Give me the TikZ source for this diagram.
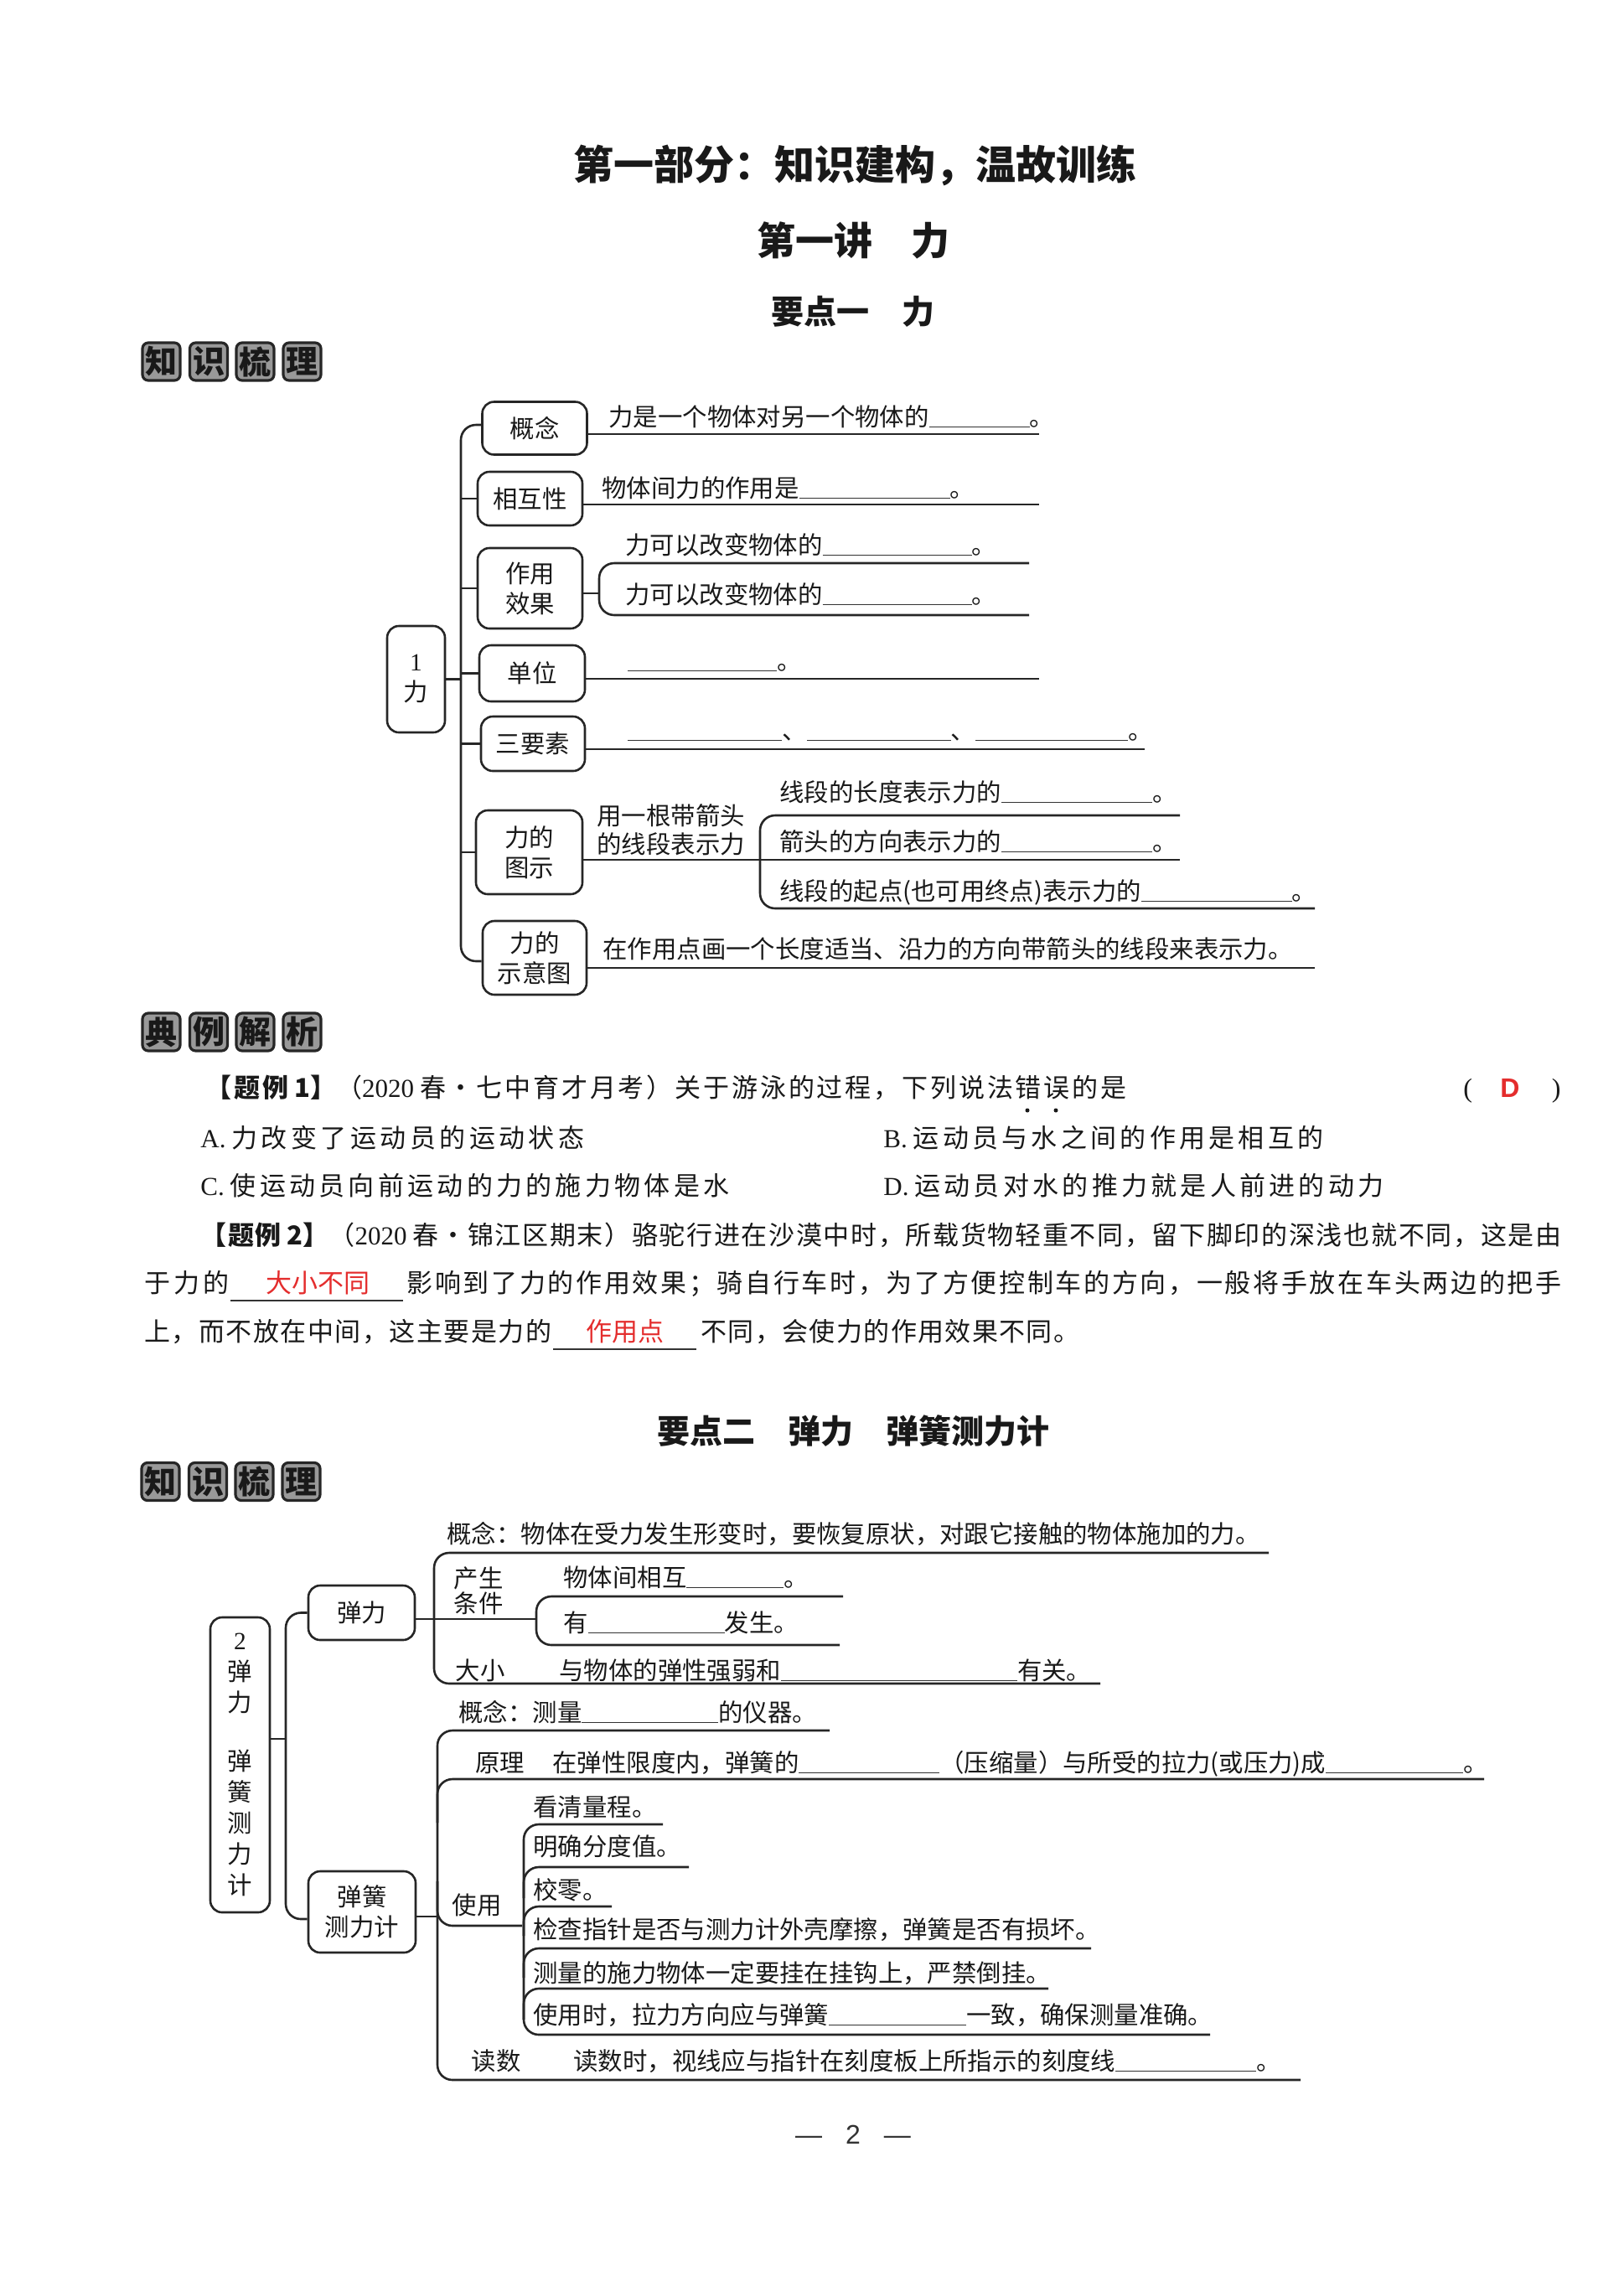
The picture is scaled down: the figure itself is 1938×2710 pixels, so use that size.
\documentclass[tikz,border=0pt]{standalone}
\usepackage{fontspec}
\setmainfont{Liberation Serif}
\newfontfamily\cjk{Noto Sans CJK SC}
\newfontfamily\latsans{Liberation Sans}
\usetikzlibrary{calc}
\newXeTeXintercharclass\mycjkclass
\newcount\mycc
\mycc="4E00 \loop \XeTeXcharclass\mycc=\mycjkclass \advance\mycc 1 \ifnum\mycc<"A000 \repeat
\mycc="3000 \loop \XeTeXcharclass\mycc=\mycjkclass \advance\mycc 1 \ifnum\mycc<"3100 \repeat
\mycc="FF00 \loop \XeTeXcharclass\mycc=\mycjkclass \advance\mycc 1 \ifnum\mycc<"FF70 \repeat
\XeTeXinterchartoks\mycjkclass\mycjkclass={\hskip0pt plus 1fil\relax}
\XeTeXinterchartokenstate=1
\definecolor{ansred}{RGB}{228,45,45}
\newcommand\ffs[1]{\fontsize{#1}{#1}\selectfont}
\newcommand\bl[1]{\textcolor{black!80}{\rule[-0.08em]{#1pt}{0.9pt}}}
\newcommand\lat[1]{{\rmfamily #1}}
\newcommand\jb[2]{\makebox[#1pt][s]{#2}}
\tikzset{
 every node/.style={inner sep=0pt, text=black!90},
 tx/.style={anchor=base west, font=\cjk\ffs{14.7}},
 txc/.style={anchor=base, font=\cjk\ffs{14.7}},
 qx/.style={anchor=base west, font=\cjk\ffs{15.5}},
 mbox/.style={draw=black!85, line width=1.3pt, rounded corners=7pt, align=center, font=\cjk\fontsize{14.7}{18}\selectfont},
 ln/.style={draw=black!85, line width=1.3pt, rounded corners=9pt},
 ul/.style={draw=black!80, line width=0.9pt},
 badge/.style={draw=black!85, fill=black!40, line width=1.6pt, rounded corners=3.5pt, minimum size=22.5pt, font=\cjk\bfseries\ffs{19}},
 hd/.style={anchor=base, font=\cjk\bfseries\ffs{19.5}},
}
\begin{document}
\begin{tikzpicture}[x=0.5pt,y=-0.5pt]
\fill[white] (0,0) rectangle (1938,2710);
\useasboundingbox (0,0) rectangle (1938,2710);

% ---------- headings ----------
\node[anchor=base, font=\cjk\bfseries\ffs{24}] (h1) at (1020,214) {第一部分：知识建构，温故训练};
\node[anchor=base, font=\cjk\bfseries\ffs{23}] (h2) at (1018,304) {第一讲　力};
\node[hd] (h3) at (1018,386.5) {要点一　力};
\node[hd] (h4) at (1018,1722.5) {要点二　弹力　弹簧测力计};

% ---------- badges ----------
\foreach \x/\c [count=\i] in {192.5/知,249/识,304.5/梳,360.5/理} \node[badge] (ka\i) at (\x,431.5) {\c};
\foreach \x/\c [count=\i] in {192.5/典,249/例,304.5/解,360.5/析} \node[badge] (kb\i) at (\x,1231.5) {\c};
\foreach \x/\c [count=\i] in {191.5/知,248/识,303.5/梳,359.5/理} \node[badge] (kc\i) at (\x,1768) {\c};

% ---------- mind map 1 ----------
\node[mbox, minimum width=34.5pt, minimum height=63.5pt] (L1) at (496.5,810.5) {\lat{1}\\力};
\node[mbox, minimum width=62.5pt, minimum height=31.5pt] (gn) at (638,511) {概念};
\node[mbox, minimum width=62.5pt, minimum height=32pt] (hx) at (632.5,595) {相互性};
\node[mbox, minimum width=62.5pt, minimum height=48pt] (zy) at (632.5,702) {作用\\效果};
\node[mbox, minimum width=63pt, minimum height=33.5pt] (dw) at (635,803.5) {单位};
\node[mbox, minimum width=62pt, minimum height=32.5pt] (sy) at (636,887.5) {三要素};
\node[mbox, minimum width=63.5pt, minimum height=50pt] (ts) at (631.5,1017) {力的\\图示};
\node[mbox, minimum width=62pt, minimum height=44pt] (sx) at (638,1143) {力的\\示意图};

\coordinate (T1) at (550,0);
\draw[ln] ($(gn.west)+(0,-4)$) -- ($(gn.west -| T1)+(0,-4)$) -- ($(sx.west -| T1)+(0,4)$) -- ($(sx.west)+(0,4)$);
\draw[ln] (hx.west) -- (hx.west -| T1);
\draw[ln] (zy.west) -- (zy.west -| T1);
\draw[ln] (dw.west) -- (dw.west -| T1);
\draw[ln] (sy.west) -- (sy.west -| T1);
\draw[ln] (ts.west) -- (ts.west -| T1);
\draw[ln] (L1.east) -- (L1.east -| T1);

\draw[ln] ($(gn.east)+(0,7)$) -- (1240,518);
\draw[ln] ($(hx.east)+(0,7)$) -- (1240,602);
\draw[ln] ($(zy.east)+(0,6)$) -- (715,708);
\draw[ln] (1228,672) -- (715,672) -- (715,734) -- (1228,734);
\draw[ln] ($(dw.east)+(0,6.5)$) -- (1240,810);
\draw[ln] ($(sy.east)+(0,6.5)$) -- (1366,894);
\draw[ln] ($(ts.east)+(0,9)$) -- (1408,1026);
\draw[ln] (1408,973) -- (907,973) -- (907,1084) -- (1569,1084);
\draw[ln] ($(sx.east)+(0,12)$) -- (1569,1155);

\node[tx] (a1) at (726,508) {力是一个物体对另一个物体的\bl{60}。};
\node[tx] (a2) at (718,593) {物体间力的作用是\bl{90}。};
\node[tx] (a3) at (746,661) {力可以改变物体的\bl{89}。};
\node[tx] (a4) at (746,720) {力可以改变物体的\bl{89}。};
\node[tx] (a5) at (749,799) {\bl{89}。};
\node[tx] (a6) at (749,882) {\bl{92}、\bl{86}、\bl{91}。};
\node[tx] (a7) at (712,984) {用一根带箭头};
\node[tx] (a8) at (712,1018) {的线段表示力};
\node[tx] (a9) at (930,956) {线段的长度表示力的\bl{90}。};
\node[tx] (a10) at (930,1015) {箭头的方向表示力的\bl{90}。};
\node[tx] (a11) at (930,1074) {线段的起点(也可用终点)表示力的\bl{90}。};
\node[tx] (a12) at (719,1143) {在作用点画一个长度适当、沿力的方向带箭头的线段来表示力。};

% ---------- examples ----------
\node[qx] (q1) at (245,1309) {\jb{549.5}{{\bfseries【题例 1】}（\lat{2020} 春・七中育才月考）关于游泳的过程，下列说法错误的是}};
\fill[black!90] (1226,1325) circle (2.5);
\fill[black!90] (1260,1325) circle (2.5);
\node[anchor=base west, font=\rmfamily\ffs{16}] (p1) at (1746,1309) {(};
\node[anchor=base, font=\latsans\bfseries\ffs{16}, text=ansred] (ans) at (1802,1309) {D};
\node[anchor=base east, font=\rmfamily\ffs{16}] (p2) at (1863,1309) {)};

\node[qx] (oa) at (239,1369) {\jb{229}{\lat{A.} 力改变了运动员的运动状态}};
\node[qx] (ob) at (1054,1369) {\jb{262.5}{\lat{B.} 运动员与水之间的作用是相互的}};
\node[qx] (oc) at (239,1426) {\jb{315.5}{\lat{C.} 使运动员向前运动的力的施力物体是水}};
\node[qx] (od) at (1054,1426) {\jb{298.5}{\lat{D.} 运动员对水的推力就是人前进的动力}};

\node[qx] (r1) at (239,1485) {\jb{812}{{\bfseries【题例 2】}（\lat{2020} 春・锦江区期末）骆驼行进在沙漠中时，所载货物轻重不同，留下脚印的深浅也就不同，这是由}};
\node[qx] (r2a) at (172,1542) {\jb{50.5}{于力的}};
\draw[ul] (275,1552) -- (481,1552);
\node[qx, anchor=base, text=ansred] (r2b) at (379,1542) {大小不同};
\node[qx] (r2c) at (485,1542) {\jb{689}{影响到了力的作用效果；骑自行车时，为了方便控制车的方向，一般将手放在车头两边的把手}};
\node[qx] (r3a) at (172,1600) {\jb{243}{上，而不放在中间，这主要是力的}};
\draw[ul] (660,1610) -- (831,1610);
\node[qx, anchor=base, text=ansred] (r3b) at (746,1600) {作用点};
\node[qx] (r3c) at (836,1600) {\jb{226}{不同，会使力的作用效果不同。}};

% ---------- mind map 2 ----------
\node[mbox, minimum width=35.5pt, minimum height=176pt, font=\cjk\fontsize{14.7}{18.5}\selectfont] (b2) at (286.5,2106) {\lat{2}\\弹\\力\\[16.5pt]弹\\簧\\测\\力\\计};
\node[mbox, minimum width=63.5pt, minimum height=32.5pt] (b2a) at (431.5,1924.5) {弹力};
\node[mbox, minimum width=64pt, minimum height=48.5pt] (b2c) at (432,2281.5) {弹簧\\测力计};

\coordinate (T2) at (341,0);
\draw[ln] (b2a.west) -- (b2a.west -| T2) -- ($(b2c.west -| T2)+(0,8.5)$) -- ($(b2c.west)+(0,8.5)$);
\draw[ln] ($(b2.east)+(0,-31)$) -- ($(b2.east -| T2)+(0,-31)$);
\draw[ln] ($(b2a.east)+(0,7.5)$) -- (640,1932);
\draw[ln] (1514,1853) -- (518,1853) -- (518,2009) -- (1313,2009);
\draw[ln] (1006,1905) -- (640,1905) -- (640,1963) -- (1002,1963);
\draw[ln] ($(b2c.east)+(0,5.5)$) -- (522,2287);
\draw[ln] (990,2065) -- (522,2065) -- (522,2482) -- (1552,2482);
\draw[ln] (1771,2123) -- (522,2123) -- (522,2175);
\draw[ln] (623,2298) -- (522,2298) -- (522,2245);
\draw[ln] (791,2177) -- (625,2177) -- (625,2428) -- (1444,2428);
\draw[ln] (822,2228) -- (625,2228) -- (625,2265);
\draw[ln] (730,2275) -- (625,2275) -- (625,2310);
\draw[ln] (1302,2325) -- (625,2325) -- (625,2360);
\draw[ln] (1251,2373) -- (625,2373) -- (625,2410);

\node[tx] (c1) at (533,1841) {概念：物体在受力发生形变时，要恢复原状，对跟它接触的物体施加的力。};
\node[align=center, font=\cjk\fontsize{14.7}{15}\selectfont] (c2) at (571,1898) {产生\\条件};
\node[tx] (c3) at (672,1893) {物体间相互\bl{58}。};
\node[tx] (c4) at (672,1947) {有\bl{81.5}发生。};
\node[txc] (c5) at (573,2004) {大小};
\node[tx] (c6) at (667,2004) {与物体的弹性强弱和\bl{141}有关。};
\node[tx] (d1) at (547,2054) {概念：测量\bl{81.5}的仪器。};
\node[tx] (d2) at (567,2114) {原理};
\node[tx] (d3) at (659,2114) {在弹性限度内，弹簧的\bl{84}（压缩量）与所受的拉力(或压力)成\bl{82}。};
\node[txc] (d4) at (569,2284) {使用};
\node[tx] (e1) at (636,2167) {看清量程。};
\node[tx] (e2) at (636,2214) {明确分度值。};
\node[tx] (e3) at (636,2266) {校零。};
\node[tx] (e4) at (636,2313) {检查指针是否与测力计外壳摩擦，弹簧是否有损坏。};
\node[tx] (e5) at (636,2365) {测量的施力物体一定要挂在挂钩上，严禁倒挂。};
\node[tx] (e6) at (636,2415) {使用时，拉力方向应与弹簧\bl{82}一致，确保测量准确。};
\node[txc] (f1) at (592,2470) {读数};
\node[tx] (f2) at (684,2470) {读数时，视线应与指针在刻度板上所指示的刻度线\bl{84}。};

% ---------- page number ----------
\node[anchor=base, font=\latsans\ffs{16}, text=black!80] (pg) at (1018,2558) {—\hspace{14pt}2\hspace{14pt}—};
\end{tikzpicture}
\end{document}
